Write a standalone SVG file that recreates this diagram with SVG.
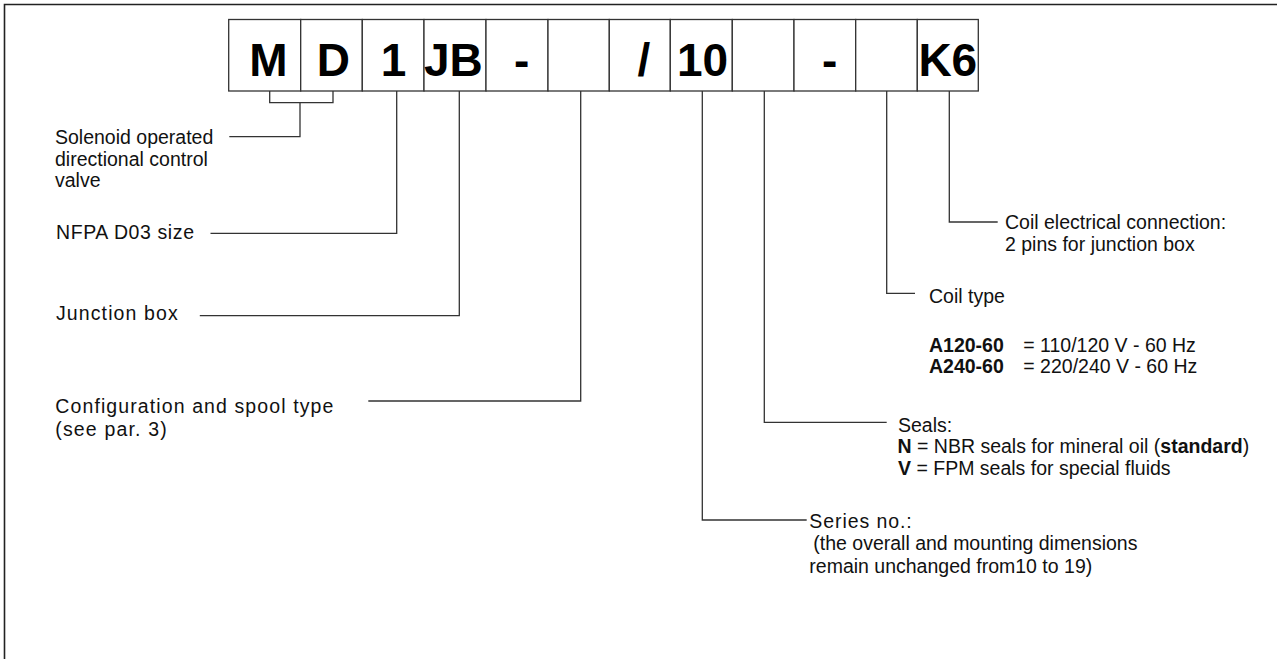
<svg xmlns="http://www.w3.org/2000/svg" width="1277" height="659" viewBox="0 0 1277 659">
<style>
.frame{fill:none;stroke:#222;stroke-width:1.6}
.box{fill:#fff;stroke:#333;stroke-width:1.3}
.code{font-family:"Liberation Sans",Arial,sans-serif;font-weight:bold;font-size:46px;fill:#000;text-anchor:middle}
.lbl{font-family:"Liberation Sans",Arial,sans-serif;font-size:19.5px;fill:#111}
.b{font-weight:bold}
.conn{fill:none;stroke:#333;stroke-width:1.3}
</style>
<rect x="0" y="0" width="1277" height="659" fill="#fff"/>
<path class="frame" d="M4.5 659 V4.5 H1277"/>

<g id="code">
  <g id="box-M"><rect class="box" x="228.7" y="19.5" width="72" height="71.5"/><text class="code" x="268.3" y="76">M</text></g>
  <g id="box-D"><rect class="box" x="300.7" y="19.5" width="61.6" height="71.5"/><text class="code" x="333.3" y="76">D</text></g>
  <g id="box-1"><rect class="box" x="362.3" y="19.5" width="61.7" height="71.5"/><text class="code" x="393.5" y="76">1</text></g>
  <g id="box-JB"><rect class="box" x="424" y="19.5" width="62" height="71.5"/><text class="code" x="453.3" y="76">JB</text></g>
  <g id="box-dash1"><rect class="box" x="486" y="19.5" width="62" height="71.5"/><text class="code" x="521.7" y="76">-</text></g>
  <g id="box-spool"><rect class="box" x="548" y="19.5" width="61.3" height="71.5"/></g>
  <g id="box-slash"><rect class="box" x="609.3" y="19.5" width="61" height="71.5"/><text class="code" x="643.8" y="76">/</text></g>
  <g id="box-10"><rect class="box" x="670.3" y="19.5" width="62" height="71.5"/><text class="code" x="702.5" y="76">10</text></g>
  <g id="box-seals"><rect class="box" x="732.3" y="19.5" width="61.7" height="71.5"/></g>
  <g id="box-dash2"><rect class="box" x="794" y="19.5" width="61.7" height="71.5"/><text class="code" x="829.7" y="76">-</text></g>
  <g id="box-coil"><rect class="box" x="855.7" y="19.5" width="61.6" height="71.5"/></g>
  <g id="box-K6"><rect class="box" x="917.3" y="19.5" width="61" height="71.5"/><text class="code" x="947.8" y="76">K6</text></g>
</g>

<g id="connectors">
  <path class="conn" d="M269.7 91 V102.7 H333 V91 M300 102.7 V136.7 H229.3"/>
  <path class="conn" d="M396.7 91 V233.3 H210.5"/>
  <path class="conn" d="M459.3 91 V315.7 H199.8"/>
  <path class="conn" d="M580.7 91 V401 H368.3"/>
  <path class="conn" d="M702.3 91 V520 H806.7"/>
  <path class="conn" d="M764.3 91 V422.3 H886.7"/>
  <path class="conn" d="M886.7 91 V293.3 H915"/>
  <path class="conn" d="M949.3 91 V222 H997.7"/>
</g>

<g id="label-solenoid">
  <text class="lbl" x="55" y="144">Solenoid operated</text>
  <text class="lbl" x="55" y="165.5">directional control</text>
  <text class="lbl" x="55" y="187">valve</text>
</g>
<g id="label-size"><text class="lbl" x="56" y="239.3" textLength="138">NFPA D03 size</text></g>
<g id="label-junction"><text class="lbl" x="56" y="320" textLength="121.7">Junction box</text></g>
<g id="label-config">
  <text class="lbl" x="55.3" y="412.5" textLength="278">Configuration and spool type</text>
  <text class="lbl" x="55.3" y="435.5" textLength="111.4">(see par. 3)</text>
</g>
<g id="label-connection">
  <text class="lbl" x="1005" y="229">Coil electrical connection:</text>
  <text class="lbl" x="1005" y="251">2 pins for junction box</text>
</g>
<g id="label-coil">
  <text class="lbl" x="929" y="303.3">Coil type</text>
  <text class="lbl" y="351.7"><tspan class="b" x="929">A120-60</tspan><tspan x="1023.3">= 110/120 V - 60 Hz</tspan></text>
  <text class="lbl" y="372.7"><tspan class="b" x="929">A240-60</tspan><tspan x="1023.3">= 220/240 V - 60 Hz</tspan></text>
</g>
<g id="label-seals">
  <text class="lbl" x="898" y="431.7">Seals:</text>
  <text class="lbl" x="897.5" y="453.3"><tspan class="b">N</tspan> = NBR seals for mineral oil (<tspan class="b">standard</tspan>)</text>
  <text class="lbl" x="898" y="475"><tspan class="b">V</tspan> = FPM seals for special fluids</text>
</g>
<g id="label-series">
  <text class="lbl" x="809.3" y="528.3" textLength="102.4">Series no.:</text>
  <text class="lbl" x="813.3" y="550">(the overall and mounting dimensions</text>
  <text class="lbl" x="809.3" y="572.7">remain unchanged from10 to 19)</text>
</g>
</svg>
